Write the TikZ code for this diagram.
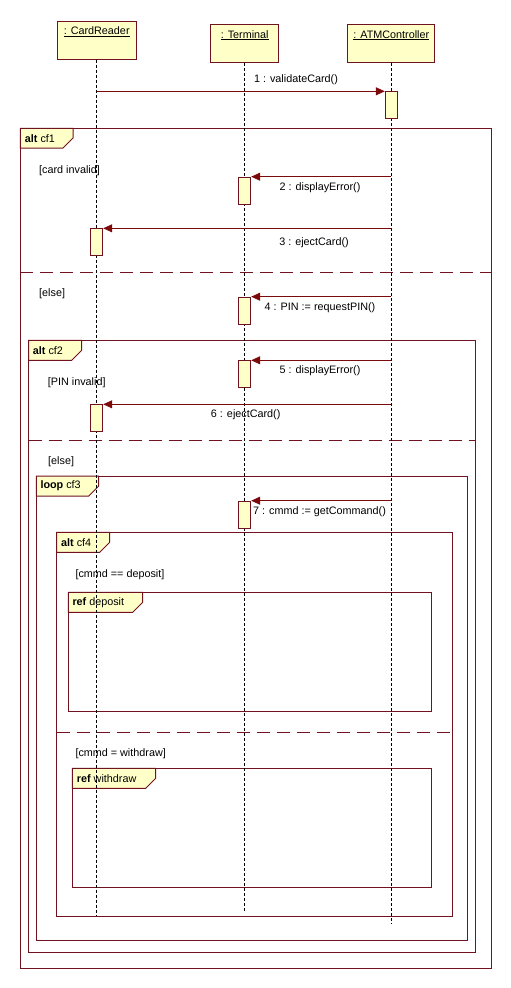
\documentclass[tikz,border=0pt]{standalone}
\usepackage{fontspec}
\setmainfont{Liberation Sans}
\usetikzlibrary{calc,positioning,arrows.meta}
\definecolor{umlred}{RGB}{112,18,32}
\definecolor{msgred}{RGB}{125,10,10}
\definecolor{umlfill}{RGB}{255,255,200}
\tikzstyle{head}  = [rectangle, draw=umlred, fill=umlfill, line width=1pt, minimum height=38pt, inner sep=0pt]
\tikzstyle{act}   = [rectangle, draw=umlred, fill=umlfill, line width=1pt, minimum width=12pt, minimum height=27pt, anchor=north, inner sep=0pt]
\tikzstyle{frame} = [draw=umlred, line width=1pt]
\tikzstyle{tag}   = [draw=umlred, fill=umlfill, line width=1pt]
\tikzstyle{sep}   = [draw=umlred, line width=1pt, dash pattern=on 13pt off 7pt]
\tikzstyle{life}  = [line width=0.8pt, dash pattern=on 3pt off 2pt]
\tikzstyle{msg}   = [draw=msgred, line width=1pt, -{Triangle[length=9pt,width=8pt]}]
\tikzstyle{txt}   = [font=\fontsize{10.8}{13}\selectfont, inner sep=0pt]

\begin{document}
\begin{tikzpicture}[x=1pt,y=-1pt]
		\useasboundingbox (0,0) rectangle (511,988);

		% combined fragments
		\draw[frame] (20.3,128.3) rectangle (491.7,968.3);
		\draw[frame] (28.7,340.3) rectangle (475.3,952.3);
		\draw[frame] (36.3,476) rectangle (467.7,940.3);
		\draw[frame] (56.7,532.3) rectangle (452.3,916.3);
		\draw[frame] (68.3,592.3) rectangle (431.7,711);
		\draw[frame] (72.3,768.3) rectangle (431.7,887.3);

		\draw[sep] (20.3,272.3) -- (491.7,272.3);
		\draw[sep] (28.7,440.3) -- (475.3,440.3);
		\draw[sep] (56.7,732.3) -- (452.3,732.3);

		\draw[tag] (20.3,128.3) -- (73,128.3) -- (73,138) -- (63,148) -- (20.3,148) -- cycle;
		\draw[tag] (28.7,340.3) -- (81.7,340.3) -- (81.7,350.3) -- (71.7,360.3) -- (28.7,360.3) -- cycle;
		\draw[tag] (36.3,476) -- (98.7,476) -- (98.7,486) -- (88.7,496) -- (36.3,496) -- cycle;
		\draw[tag] (56.7,532.3) -- (109.7,532.3) -- (109.7,542.3) -- (99.7,552.3) -- (56.7,552.3) -- cycle;
		\draw[tag] (68.3,592.3) -- (142.7,592.3) -- (142.7,602.3) -- (132.7,612.3) -- (68.3,612.3) -- cycle;
		\draw[tag] (72.3,768.3) -- (155.7,768.3) -- (155.7,778.3) -- (145.7,788.3) -- (72.3,788.3) -- cycle;

		\node[txt, anchor=west] (t1) at (24.7,138.5) {\textbf{alt} cf1};
		\node[txt, anchor=west] (t2) at (32.7,350.5) {\textbf{alt} cf2};
		\node[txt, anchor=west] (t3) at (40.3,486.2) {\textbf{loop} cf3};
		\node[txt, anchor=west] (t4) at (61,542.5) {\textbf{alt} cf4};
		\node[txt, anchor=west] (t5) at (72.3,602.5) {\textbf{ref} deposit};
		\node[txt, anchor=west] (t6) at (76.7,778.5) {\textbf{ref} withdraw};

		% guards
		\node[txt, anchor=west] (g1) at (39,170.7) {[card invalid]};
		\node[txt, anchor=west] (g2) at (39,294) {[else]};
		\node[txt, anchor=west] (g3) at (47.7,382.3) {[PIN invalid]};
		\node[txt, anchor=west] (g4) at (48,462) {[else]};
		\node[txt, anchor=west] (g5) at (75.3,574.3) {[cmmd == deposit]};
		\node[txt, anchor=west] (g6) at (75.3,754) {[cmmd = withdraw]};

		% message labels
		\node[txt] (l1) at (296,80) {1 : validateCard()};
		\node[txt] (l2) at (320,187.7) {2 : displayError()};
		\node[txt] (l3) at (314,242.7) {3 : ejectCard()};
		\node[txt] (l4) at (320,307.3) {4 : PIN := requestPIN()};
		\node[txt] (l5) at (320,370.7) {5 : displayError()};
		\node[txt] (l6) at (245.7,415) {6 : ejectCard()};
		\node[txt] (l7) at (319.5,511.7) {7 : cmmd := getCommand()};

		% lifelines
		\node[head, minimum width=79pt, label={[txt,anchor=north,yshift=-6pt]north:\underline{: CardReader}}] (cr) at (96.7,40) {};
		\node[head, minimum width=68pt, label={[txt,anchor=north,yshift=-6pt]north:\underline{: Terminal}}] (term) at (244.7,43.5) {};
		\node[head, minimum width=87pt, label={[txt,anchor=north,yshift=-6pt]north:\underline{: ATMController}}] (atm) at (391.3,43.5) {};

		\coordinate (crend) at (96.7,915);
		\coordinate (termend) at (244.7,912);
		\coordinate (atmend) at (391.3,924);
		\draw[life] (cr.south) -- (crend);
		\draw[life] (term.south) -- (termend);
		\draw[life] (atm.south) -- (atmend);

		% activations
		\node[act] (a1) at (391.3,91.3) {};
		\node[act] (a2) at (244.7,176.7) {};
		\node[act] (a3) at (96.7,228.3) {};
		\node[act] (a4) at (244.7,296.7) {};
		\node[act] (a5) at (244.7,360.3) {};
		\node[act] (a6) at (96.7,404.3) {};
		\node[act] (a7) at (244.7,500.7) {};

		% messages
		\draw[msg] (cr.south |- a1.north) -- (a1.north west);
		\draw[msg] (atm.south |- a2.north) -- (a2.north east);
		\draw[msg] (atm.south |- a3.north) -- (a3.north east);
		\draw[msg] (atm.south |- a4.north) -- (a4.north east);
		\draw[msg] (atm.south |- a5.north) -- (a5.north east);
		\draw[msg] (atm.south |- a6.north) -- (a6.north east);
		\draw[msg] (atm.south |- a7.north) -- (a7.north east);
	\end{tikzpicture}
\end{document}
